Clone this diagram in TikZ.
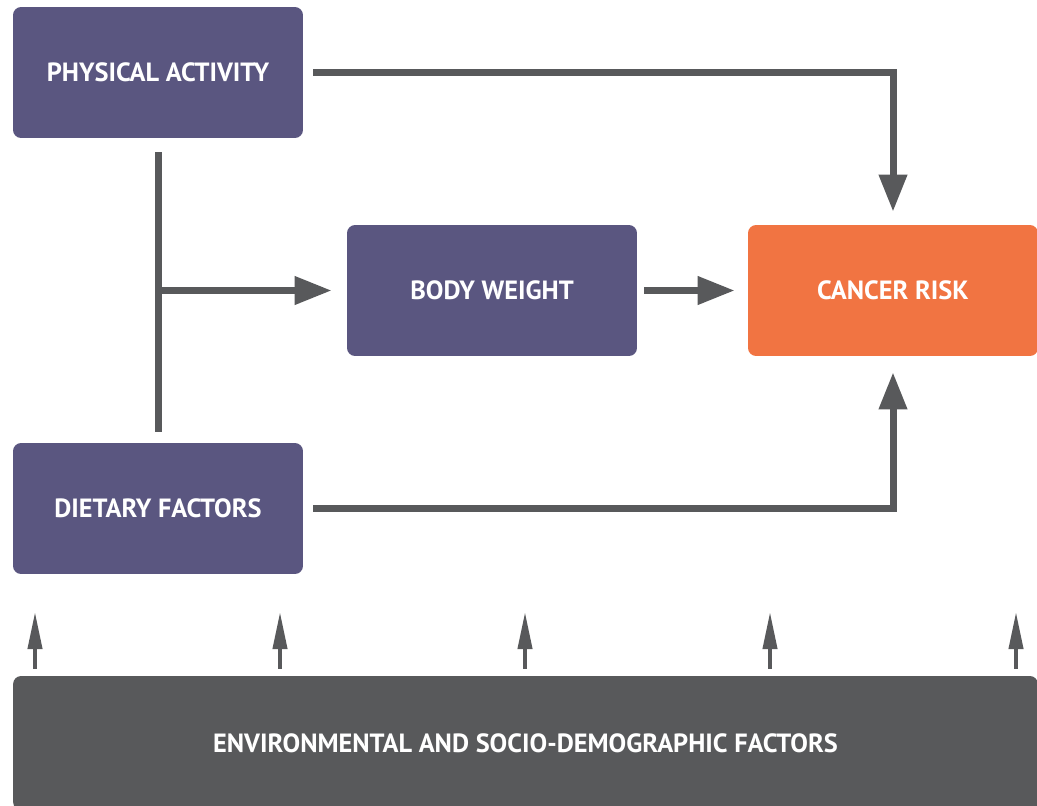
\documentclass[tikz,border=0pt]{standalone}
\usepackage{fontspec}
\setmainfont{PT Sans}
\usetikzlibrary{arrows.meta}
\definecolor{boxpurple}{RGB}{90,86,128}
\definecolor{riskorange}{RGB}{241,116,66}
\definecolor{arrowgray}{RGB}{88,89,91}

\begin{document}
\begin{tikzpicture}[x=0.02cm, y=-0.02cm,
    factor/.style={rounded corners=0.16cm, fill=boxpurple, text=white, inner sep=0pt,
      font=\bfseries\fontsize{15}{18}\selectfont, minimum width=5.8cm, minimum height=2.62cm},
    link/.style={arrowgray, line width=0.14cm, -{Triangle[length=0.74cm, width=0.54cm]}},
    lift/.style={arrowgray, line width=0.08cm, -{Triangle[length=0.74cm, width=0.28cm]}}]

    \useasboundingbox (0,0) rectangle (1037,805);
    \clip (0,0) rectangle (1037,805);

    \node[factor] (activity) at (158,72.5) {PHYSICAL ACTIVITY};
    \node[factor] (weight) at (492,290.5) {BODY WEIGHT};
    \node[factor, fill=riskorange] (risk) at (893,290.5) {CANCER RISK};
    \node[factor] (diet) at (158,508.5) {DIETARY FACTORS};
    \node[factor, fill=arrowgray, minimum width=20.5cm, minimum height=2.68cm] (env) at (525.5,743) {ENVIRONMENTAL AND SOCIO-DEMOGRAPHIC FACTORS};

    \draw[link, shorten <=0.2cm, shorten >=0.26cm] (activity.east) -| (risk.north);
    \draw[link, shorten <=0.2cm, shorten >=0.32cm] (diet.east) -| (risk.south);
    \draw[link, shorten <=0.14cm, shorten >=0.26cm] (weight.east) -- (risk.west);

    \draw[arrowgray, line width=0.14cm, shorten <=0.28cm, shorten >=0.22cm] (activity.south) -- (diet.north);
    \coordinate (fork) at (activity.south |- weight.west);
    \draw[link, shorten >=0.3cm] (fork) -- (weight.west);

    \foreach \x in {35,280,525,770,1016} {
      \coordinate (tip\x) at (\x,612);
      \draw[lift, shorten <=0.14cm] (env.north -| tip\x) -- (tip\x);
    }

\end{tikzpicture}
\end{document}
